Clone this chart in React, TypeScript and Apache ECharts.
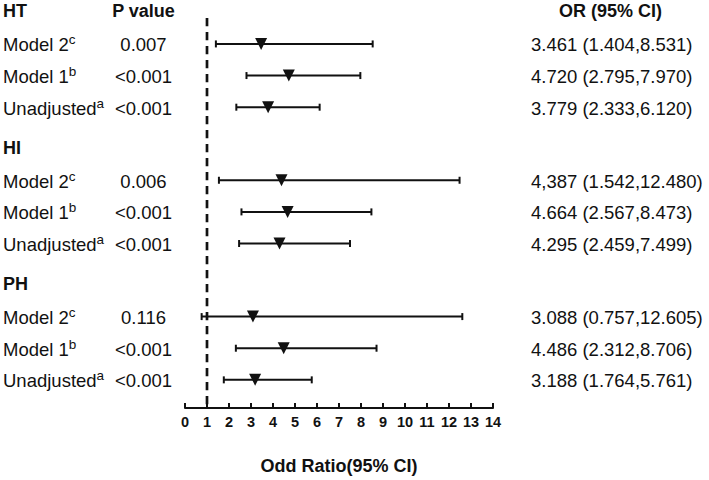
import React, { useEffect, useRef } from 'react';
import * as echarts from 'echarts';

const groups = ['HT', 'HI', 'PH'];
const modelNames = ['Model 2', 'Model 1', 'Unadjusted'];
const modelSups = ['c', 'b', 'a'];
const orValues = [
  [3.461, 4.72, 3.779],
  [4.387, 4.664, 4.295],
  [3.088, 4.486, 3.188],
];
const ciLower = [
  [1.404, 2.795, 2.333],
  [1.542, 2.567, 2.459],
  [0.757, 2.312, 1.764],
];
const ciUpper = [
  [8.531, 7.97, 6.12],
  [12.48, 8.473, 7.499],
  [12.605, 8.706, 5.761],
];
const pValues = [
  ['0.007', '<0.001', '<0.001'],
  ['0.006', '<0.001', '<0.001'],
  ['0.116', '<0.001', '<0.001'],
];
const orLabels = [
  ['3.461 (1.404,8.531)', '4.720 (2.795,7.970)', '3.779 (2.333,6.120)'],
  ['4,387 (1.542,12.480)', '4.664 (2.567,8.473)', '4.295 (2.459,7.499)'],
  ['3.088 (0.757,12.605)', '4.486 (2.312,8.706)', '3.188 (1.764,5.761)'],
];
const xMin = 0;
const xMax = 14;
const xInterval = 1;
const referenceLine = 1;
const xAxisTitle = 'Odd Ratio(95% CI)';
const pHeader = 'P value';
const orHeader = 'OR (95% CI)';

// layout (row units)
const GROUP_STEP = 4.31;
const HEADER_OFFSET = -1.03;
const Y_MIN = -1;
const Y_MAX = 11.51;
const DASH_TOP = -0.82;

const FONT = 'Liberation Sans, Arial, Helvetica, sans-serif';
const INK = '#111111';

export default function App() {
  const ref = useRef<HTMLDivElement>(null);
  useEffect(() => {
    if (!ref.current) return;
    const chart = echarts.init(ref.current, undefined, { renderer: 'svg' });

    const rows: number[][] = [];
    groups.forEach((_, g) => {
      modelNames.forEach((__, r) => {
        rows.push([ciLower[g][r], ciUpper[g][r], orValues[g][r], g * GROUP_STEP + r, g, r]);
      });
    });
    const headers = groups.map((_, g) => [0, g * GROUP_STEP + HEADER_OFFSET, g]);

    const option: any = {
      animation: false,
      backgroundColor: '#ffffff',
      grid: { left: 185, width: 308, top: 12.3, height: 396.7, containLabel: false },
      xAxis: {
        type: 'value',
        min: xMin,
        max: xMax,
        interval: xInterval,
        name: xAxisTitle,
        nameLocation: 'middle',
        nameGap: 49,
        nameTextStyle: { fontFamily: FONT, fontWeight: 'bold', fontSize: 18, color: INK },
        axisLine: { show: true, onZero: false, lineStyle: { color: INK, width: 2 } },
        axisTick: { show: true, inside: true, length: 5, lineStyle: { color: INK, width: 2 } },
        axisLabel: { fontFamily: FONT, fontWeight: 'bold', fontSize: 14.5, color: INK, margin: 6 },
        splitLine: { show: false },
      },
      yAxis: {
        type: 'value',
        inverse: true,
        min: Y_MIN,
        max: Y_MAX,
        show: false,
        splitLine: { show: false },
      },
      series: [
        {
          type: 'line',
          data: [
            [referenceLine, DASH_TOP],
            [referenceLine, Y_MAX],
          ],
          symbol: 'none',
          lineStyle: { color: INK, width: 2.7, type: [8.3, 5.7] },
          silent: true,
          z: 1,
        },
        {
          type: 'custom',
          clip: false,
          data: rows,
          z: 3,
          renderItem: (params: any, api: any) => {
            const pos = api.value(3);
            const lo = api.coord([api.value(0), pos]);
            const hi = api.coord([api.value(1), pos]);
            const c = api.coord([api.value(2), pos]);
            const g = api.value(4);
            const r = api.value(5);
            const y = c[1];
            const capH = 3.5;
            const tri = 6;
            const stroke = { stroke: INK, lineWidth: 2 };
            return {
              type: 'group',
              children: [
                { type: 'line', shape: { x1: lo[0], y1: y, x2: hi[0], y2: y }, style: stroke },
                { type: 'line', shape: { x1: lo[0], y1: y - capH, x2: lo[0], y2: y + capH }, style: stroke },
                { type: 'line', shape: { x1: hi[0], y1: y - capH, x2: hi[0], y2: y + capH }, style: stroke },
                {
                  type: 'polygon',
                  shape: { points: [[c[0] - tri, y - tri], [c[0] + tri, y - tri], [c[0], y + tri]] },
                  style: { fill: INK },
                },
                {
                  type: 'text',
                  style: {
                    text: `{m|${modelNames[r]}}{s|${modelSups[r]}}`,
                    x: 3,
                    y: y + 1,
                    align: 'left',
                    verticalAlign: 'middle',
                    rich: {
                      m: { fontFamily: FONT, fontSize: 18.5, fill: INK, lineHeight: 24 },
                      s: { fontFamily: FONT, fontSize: 13.5, fill: INK, lineHeight: 14, verticalAlign: 'top' },
                    },
                  },
                },
                {
                  type: 'text',
                  style: {
                    text: pValues[g][r],
                    x: 143.5,
                    y: y + 1,
                    align: 'center',
                    verticalAlign: 'middle',
                    fontFamily: FONT,
                    fontSize: 18.5,
                    fill: INK,
                  },
                },
                {
                  type: 'text',
                  style: {
                    text: orLabels[g][r],
                    x: 531,
                    y: y + 1,
                    align: 'left',
                    verticalAlign: 'middle',
                    fontFamily: FONT,
                    fontSize: 18.5,
                    fill: INK,
                  },
                },
              ],
            };
          },
        },
        {
          type: 'custom',
          clip: false,
          data: headers,
          z: 3,
          renderItem: (params: any, api: any) => {
            const p = api.coord([0, api.value(1)]);
            const g = api.value(2);
            const y = p[1];
            const bold = { fontFamily: FONT, fontSize: 18, fontWeight: 'bold', fill: INK, verticalAlign: 'middle' };
            const children: any[] = [
              { type: 'text', style: { ...bold, text: groups[g], x: 3, y, align: 'left' } },
            ];
            if (g === 0) {
              children.push({ type: 'text', style: { ...bold, text: pHeader, x: 143.5, y, align: 'center' } });
              children.push({ type: 'text', style: { ...bold, text: orHeader, x: 610.5, y, align: 'center' } });
            }
            return { type: 'group', children };
          },
        },
      ],
    };
    chart.setOption(option);
    return () => chart.dispose();
  }, []);
  return (
    <div
      ref={ref}
      style={{ position: 'absolute', left: 0, top: 0, width: 709, height: 480, background: '#fff' }}
    />
  );
}
